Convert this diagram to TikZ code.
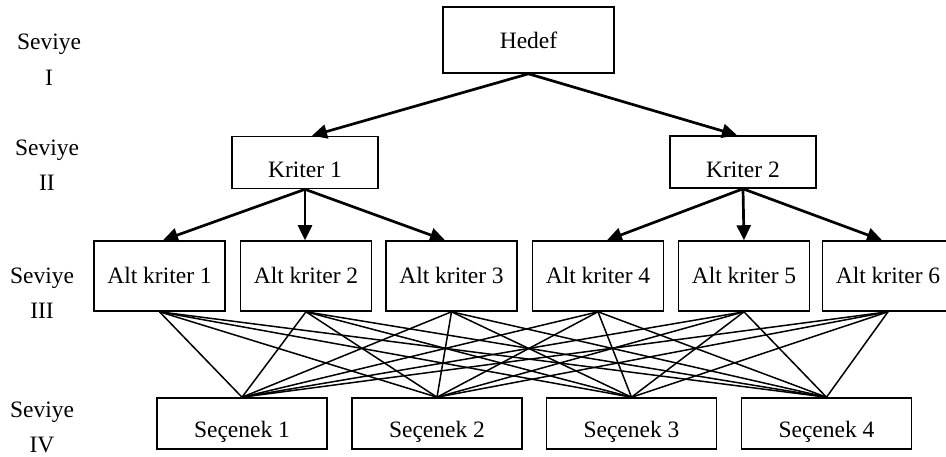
\documentclass[tikz,border=0pt]{standalone}
\usepackage{fontspec}
\setmainfont{Liberation Serif}
\usetikzlibrary{arrows.meta}
\begin{document}
\begin{tikzpicture}[x=1pt,y=-1pt,
  every node/.style={font=\fontsize{23.5}{28}\selectfont},
  box/.style={draw, line width=1.6pt, inner sep=0pt, align=center},
  hbox/.style={box, minimum width=171pt, minimum height=66pt, text height=16pt, text depth=0pt},
  kbox/.style={box, minimum width=146pt, minimum height=52pt, text height=30pt, text depth=0pt},
  abox/.style={box, minimum width=131pt, minimum height=70pt, text height=14pt, text depth=0pt},
  sbox/.style={box, minimum width=170pt, minimum height=51pt, text height=27pt, text depth=0pt},
  lvl/.style={anchor=base, inner sep=0pt},
  arr/.style={line width=2.7pt, -{Triangle[length=15pt,width=14pt]}},
  link/.style={line width=1.5pt}
]
\useasboundingbox (0,0) rectangle (946,456);

% level labels
\node[lvl] (sv1) at (49,49) {Seviye};
\node[lvl] (r1)  at (49,85) {I};
\node[lvl] (sv2) at (47,155) {Seviye};
\node[lvl] (r2)  at (47,190) {II};
\node[lvl] (sv3) at (42,283) {Seviye};
\node[lvl] (r3)  at (42,318) {III};
\node[lvl] (sv4) at (42,417) {Seviye};
\node[lvl] (r4)  at (42,452) {IV};

% boxes
\node[hbox] (hedef) at (528.5,40) {Hedef};
\node[kbox] (k1) at (305,162.5) {Kriter 1};
\node[kbox] (k2) at (743,162) {Kriter 2};

\node[abox] (a1) at (159.5,276) {Alt kriter 1};
\node[abox] (a2) at (306,276) {Alt kriter 2};
\node[abox] (a3) at (451.5,276) {Alt kriter 3};
\node[abox] (a4) at (598,276) {Alt kriter 4};
\node[abox] (a5) at (744,276) {Alt kriter 5};
\node[abox] (a6) at (888,276) {Alt kriter 6};

\node[sbox] (s1) at (242,423.5) {Seçenek 1};
\node[sbox] (s2) at (437,423.5) {Seçenek 2};
\node[sbox] (s3) at (631.5,423.5) {Seçenek 3};
\node[sbox] (s4) at (826.5,423.5) {Seçenek 4};

% arrows
\draw[arr] (hedef.south) -- ([xshift=7pt]k1.north);
\draw[arr] (hedef.south) -- ([xshift=-6pt]k2.north);
\draw[arr] (k1.south) -- ([xshift=3.5pt]a1.north);
\draw[arr] (k1.south) -- ([xshift=-1pt]a2.north);
\draw[arr] (k1.south) -- ([xshift=-6.5pt]a3.north);
\draw[arr] (k2.south) -- ([xshift=9pt]a4.north);
\draw[arr] (k2.south) -- (a5.north);
\draw[arr] (k2.south) -- ([xshift=-6pt]a6.north);

% links
\foreach \a in {a1,a2,a3,a4,a5,a6}{
  \foreach \s in {s1,s2,s3,s4}{
    \draw[link] (\a.south) -- (\s.north);
  }
}
\end{tikzpicture}
\end{document}
